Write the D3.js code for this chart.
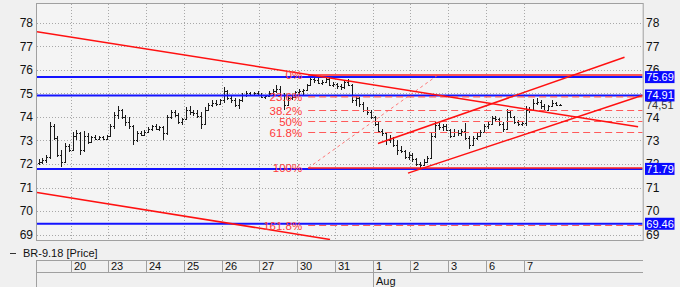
<!DOCTYPE html>
<html><head><meta charset="utf-8">
<script src="https://cdn.jsdelivr.net/npm/d3@7"></script>
<style>
html,body{margin:0;padding:0;background:#f0f0f0;}
svg{display:block;font-family:"Liberation Sans",Arial,sans-serif;}
</style></head><body>
<svg id="c" width="680" height="287"></svg>
<script>
// ---------- data ----------
const dayLabels = ["", "20", "23", "24", "25", "26", "27", "30", "31", "1", "2", "3", "6", "7"];
const monthLabel = "Aug";
const monthDayIndex = 9;
const yTicks = [69, 70, 71, 72, 73, 74, 75, 76, 77, 78];
const rightHiddenTicks = [75]; // fully covered by a value box in the reference
const barsPerDay = 10;
const firstSlot = 1; // first visible bar slot in the partial first day
const legendText = "BR-9.18 [Price]";

const barOpen = [
 72.05,72.1,72.15,72.3,73.6,73.1,72.4,72.1,72.75,
 72.6,73.2,73.3,72.6,73.2,72.95,73.15,73.05,73.15,73.05,
 73.2,73.6,74.1,74.3,74.0,73.8,73.6,73.0,73.3,73.25,
 73.35,73.5,73.6,73.5,73.55,73.3,74.0,74.2,74.1,73.8,
 73.9,74.3,74.2,74.15,74.05,73.7,74.3,74.5,74.6,74.55,
 74.7,75.1,74.8,74.7,74.5,74.7,74.95,75.0,74.95,75.0,
 74.95,74.85,74.9,75.0,75.1,75.2,74.95,74.5,74.8,74.85,
 75.05,75.1,75.15,75.35,75.6,75.55,75.45,75.5,75.6,75.35,
 75.4,75.3,75.25,75.5,75.35,74.7,74.8,74.55,74.3,74.2,
 74.0,73.7,73.4,73.3,73.0,73.1,72.8,72.6,72.55,72.3,
 72.4,72.2,72.0,71.95,72.1,72.25,73.2,73.65,73.55,73.6,
 73.45,73.2,73.35,73.3,73.4,73.1,72.8,73.1,73.2,73.35,
 73.6,73.7,73.95,73.9,73.7,73.5,74.2,74.0,73.8,73.7,
 73.75,74.3,74.3,74.6,74.65,74.45,74.3,74.45,74.6,74.5];
const barHigh = [
 72.2,72.25,72.4,73.8,73.7,73.2,72.6,72.9,72.85,
 73.35,73.45,73.35,73.4,73.3,73.2,73.25,73.2,73.2,73.25,
 73.7,74.2,74.45,74.35,74.1,74.0,73.65,73.4,73.4,73.45,
 73.55,73.65,73.7,73.6,73.6,74.1,74.3,74.3,74.15,73.95,
 74.4,74.45,74.3,74.3,74.2,74.4,74.6,74.7,74.7,74.75,
 75.25,75.15,74.95,74.8,74.75,75.0,75.1,75.05,75.05,75.1,
 75.0,74.95,75.1,75.2,75.35,75.3,75.0,74.9,74.95,75.1,
 75.2,75.2,75.4,75.7,75.78,75.65,75.55,75.72,75.65,75.5,
 75.45,75.4,75.55,75.6,75.4,74.9,74.85,74.65,74.4,74.3,
 74.05,73.8,73.5,73.35,73.25,73.15,73.0,72.75,72.6,72.5,
 72.45,72.25,72.1,72.2,72.35,73.3,73.8,73.75,73.7,73.7,
 73.5,73.5,73.45,73.5,73.75,73.2,73.2,73.35,73.45,73.7,
 73.8,74.05,74.05,73.95,73.8,74.35,74.3,74.05,73.85,73.8,
 74.45,74.4,74.75,74.8,74.7,74.55,74.5,74.7,74.65,74.55];
const barLow = [
 71.95,72.0,72.05,72.2,73.0,72.3,71.85,72.05,72.5,
 72.55,73.0,72.4,72.5,72.85,72.9,73.0,73.0,73.0,73.0,
 73.15,73.5,73.9,73.9,73.6,73.5,72.8,72.95,73.2,73.2,
 73.3,73.4,73.45,73.4,73.0,73.25,73.9,74.0,73.7,73.65,
 73.85,74.1,74.05,73.95,73.5,73.65,74.25,74.4,74.45,74.5,
 74.6,74.7,74.6,74.4,74.35,74.65,74.85,74.9,74.9,74.9,
 74.8,74.75,74.85,74.95,75.0,74.9,74.3,74.45,74.7,74.8,
 74.95,74.9,75.1,75.3,75.45,75.4,75.35,75.45,75.3,75.25,
 75.2,75.15,75.2,75.3,74.6,74.45,74.4,74.2,74.1,73.9,
 73.6,73.3,73.2,72.8,72.9,72.7,72.4,72.45,72.2,72.15,
 72.1,71.9,71.8,71.9,72.05,72.2,73.1,73.45,73.4,73.4,
 73.1,73.15,73.2,73.2,73.0,72.65,72.75,73.0,73.15,73.3,
 73.5,73.65,73.8,73.6,73.35,73.45,73.95,73.7,73.6,73.6,
 73.6,74.15,74.25,74.5,74.35,74.25,74.25,74.4,74.45,74.48];
const barClose = [
 72.1,72.15,72.3,73.6,73.1,72.4,72.1,72.75,72.6,
 73.2,73.3,72.6,73.2,72.95,73.15,73.05,73.15,73.05,73.2,
 73.6,74.1,74.3,74.0,73.8,73.6,73.0,73.3,73.25,73.35,
 73.5,73.6,73.5,73.55,73.3,74.0,74.2,74.1,73.8,73.9,
 74.3,74.2,74.15,74.05,73.7,74.3,74.5,74.6,74.55,74.7,
 75.1,74.8,74.7,74.5,74.7,74.95,75.0,74.95,75.0,74.95,
 74.85,74.9,75.0,75.1,75.2,74.95,74.5,74.8,74.85,75.05,
 75.1,75.15,75.35,75.6,75.55,75.45,75.5,75.6,75.35,75.4,
 75.3,75.25,75.5,75.35,74.7,74.8,74.55,74.3,74.2,74.0,
 73.7,73.4,73.3,73.0,73.1,72.8,72.6,72.55,72.3,72.4,
 72.2,72.0,71.95,72.1,72.25,73.2,73.65,73.55,73.6,73.45,
 73.2,73.35,73.3,73.4,73.1,72.8,73.1,73.2,73.35,73.6,
 73.7,73.95,73.9,73.7,73.5,74.2,74.0,73.8,73.7,73.75,
 74.3,74.3,74.6,74.65,74.45,74.3,74.45,74.6,74.5,74.51];

const hLevels = [75.69, 74.91, 71.79, 69.46];
const lastPrice = 74.51;
const lastPriceText = "74,51";

const fibHigh = 75.78, fibLow = 71.83;
const fibStart = 7.29, fibEnd = 10.73;   // in day units
const fibRatios = [0, 0.236, 0.382, 0.5, 0.618, 1, 1.618];
const fibLabels = ["0%", "23.6%", "38.2%", "50%", "61.8%", "100%", "161.8%"];

// trend lines: [[day, price], [day, price]]
const trendLines = [
  [[0.107, 77.62], [16.03, 73.58]],
  [[0.107, 70.79], [7.87, 68.79]],
  [[9.935, 71.61], [16.15, 74.92]],
  [[9.14, 72.87], [15.67, 76.53]]
];

// ---------- layout ----------
const L = 37, R = 642.7, T = 4, B = 240;
const x = d3.scaleLinear().domain([0.107, 16.152]).range([L, R]);
const y = d3.scaleLinear().domain([68.77, 78.795]).range([B, T]);

const svg = d3.select("#c");
svg.append("rect").attr("width", 680).attr("height", 287).attr("fill", "#f0f0f0");
svg.append("defs").append("clipPath").attr("id", "clip")
  .append("rect").attr("x", L).attr("y", T).attr("width", R - L).attr("height", B - T);

svg.append("rect").attr("x", L).attr("y", T).attr("width", R - L).attr("height", B - T)
  .attr("fill", "#f4f4f4");

// grid
const grid = svg.append("g").attr("stroke", "#a8a8a8").attr("stroke-dasharray", "1,2").attr("stroke-width", 1);
yTicks.forEach(v => {
  const yy = Math.round(y(v)) + 0.5;
  grid.append("line").attr("x1", L).attr("x2", R).attr("y1", yy).attr("y2", yy);
});
dayLabels.forEach((d, i) => {
  if (i === 0) return;
  const xx = Math.round(x(i)) + 0.5;
  grid.append("line").attr("x1", xx).attr("x2", xx).attr("y1", T).attr("y2", B);
});

const plot = svg.append("g").attr("clip-path", "url(#clip)");

// bars
const bars = plot.append("g").attr("stroke", "#1a1a1a").attr("stroke-width", 1).attr("shape-rendering", "crispEdges");
barClose.forEach((c, i) => {
  const t = (i + firstSlot + 0.5) / barsPerDay;
  const xx = Math.round(x(t)) + 0.5;
  bars.append("line").attr("x1", xx).attr("x2", xx).attr("y1", y(barHigh[i])).attr("y2", y(barLow[i]));
  bars.append("line").attr("x1", xx - 1.5).attr("x2", xx).attr("y1", Math.round(y(barOpen[i])) + 0.5).attr("y2", Math.round(y(barOpen[i])) + 0.5);
  bars.append("line").attr("x1", xx).attr("x2", xx + 1.5).attr("y1", Math.round(y(c)) + 0.5).attr("y2", Math.round(y(c)) + 0.5);
});

// blue horizontal levels
hLevels.forEach(v => {
  plot.append("line").attr("x1", L).attr("x2", R).attr("y1", y(v)).attr("y2", y(v))
    .attr("stroke", "#1414ff").attr("stroke-width", 2);
});

// fib
const range = fibHigh - fibLow;
plot.append("line").attr("x1", x(fibStart)).attr("y1", y(fibLow)).attr("x2", x(fibEnd)).attr("y2", y(fibHigh))
  .attr("stroke", "#ff6a6a").attr("stroke-width", 0.9).attr("stroke-dasharray", "3,3");
fibRatios.forEach((r, i) => {
  const v = fibHigh - r * range;
  const solid = (r === 0 || r === 1);
  plot.append("line").attr("x1", x(fibStart)).attr("x2", R).attr("y1", y(v)).attr("y2", y(v))
    .attr("stroke", solid ? "#ff2020" : "#ff5a5a").attr("stroke-width", solid ? 1.6 : 1.1)
    .attr("stroke-dasharray", solid ? null : "7,4");
  svg.append("text").attr("x", x(fibStart) - 6).attr("y", y(v)).attr("dy", "0.36em")
    .attr("text-anchor", "end").attr("font-size", 11.5).attr("fill", "#ff3a3a").text(fibLabels[i]);
});

// trend lines
trendLines.forEach(seg => {
  plot.append("line").attr("x1", x(seg[0][0])).attr("y1", y(seg[0][1]))
    .attr("x2", x(seg[1][0])).attr("y2", y(seg[1][1]))
    .attr("stroke", "#ff1010").attr("stroke-width", 1.5);
});

// frame
svg.append("rect").attr("x", L - 0.5).attr("y", T - 0.5).attr("width", R - L + 1).attr("height", B - T + 1)
  .attr("fill", "none").attr("stroke", "#a0a0a0");

// y labels
yTicks.forEach(v => {
  svg.append("text").attr("x", 33).attr("y", y(v)).attr("dy", "0.36em").attr("text-anchor", "end")
    .attr("font-size", 12).attr("fill", "#111").text(v);
  if (rightHiddenTicks.indexOf(v) < 0) {
    svg.append("text").attr("x", 646).attr("y", y(v) + (v === 74 ? 1 : 0)).attr("dy", "0.36em").attr("text-anchor", "start")
      .attr("font-size", 12).attr("fill", "#111").text(v);
  }
});

// right value boxes
svg.append("text").attr("x", 646).attr("y", y(lastPrice)).attr("dy", "0.36em")
  .attr("font-size", 11).attr("fill", "#333").text(lastPriceText);
hLevels.forEach(v => {
  svg.append("rect").attr("x", 645).attr("y", y(v) - 6).attr("width", 29.5).attr("height", 12).attr("fill", "#0a0aff");
  svg.append("text").attr("x", 646.3).attr("y", y(v)).attr("dy", "0.36em")
    .attr("font-size", 11).attr("fill", "#fff").text(v.toFixed(2));
});

// legend
svg.append("line").attr("x1", 10).attr("x2", 16).attr("y1", 253.5).attr("y2", 253.5).attr("stroke", "#333");
svg.append("text").attr("x", 23).attr("y", 253).attr("dy", "0.36em").attr("font-size", 11).attr("fill", "#111").text(legendText);

// x axis
const ax = svg.append("g").attr("stroke", "#a0a0a0").attr("shape-rendering", "crispEdges");
ax.append("line").attr("x1", L).attr("x2", R).attr("y1", 260.5).attr("y2", 260.5);
ax.append("line").attr("x1", L).attr("x2", R).attr("y1", 272.5).attr("y2", 272.5);
ax.append("line").attr("x1", L - 0.5).attr("x2", L - 0.5).attr("y1", 260).attr("y2", 287);
dayLabels.forEach((d, i) => {
  if (i === 0) return;
  const xx = Math.round(x(i)) + 0.5;
  ax.append("line").attr("x1", xx).attr("x2", xx).attr("y1", 260).attr("y2", i === monthDayIndex ? 287 : 272);
  svg.append("text").attr("x", xx + 2.5).attr("y", 266.5).attr("dy", "0.36em").attr("font-size", 11)
    .attr("fill", "#111").text(d);
});
svg.append("text").attr("x", Math.round(x(monthDayIndex)) + 3).attr("y", 281).attr("dy", "0.36em")
  .attr("font-size", 11).attr("fill", "#111").text(monthLabel);
</script>
</body></html>
